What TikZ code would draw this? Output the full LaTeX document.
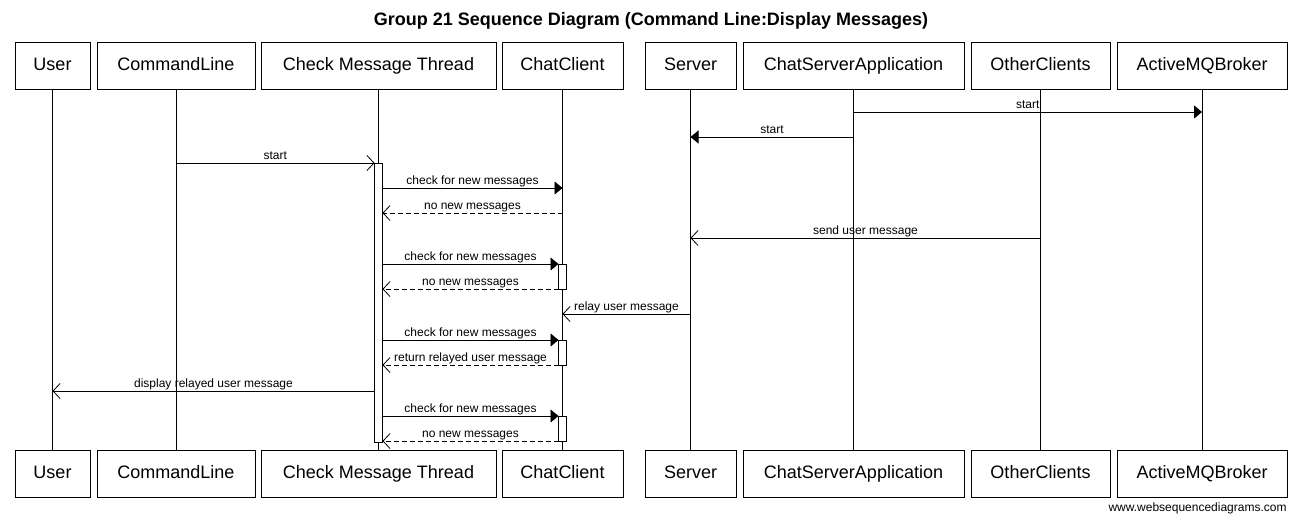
\documentclass[tikz,border=0pt]{standalone}
\usepackage{fontspec}
\setmainfont{Liberation Sans}
\usetikzlibrary{arrows.meta,positioning}

\begin{document}
\begin{tikzpicture}[
    x=1pt, y=-1pt,
    line width=0.8pt,
    actor/.style={draw, minimum height=47pt, inner sep=0pt, outer sep=0pt,
      text height=13pt, text depth=4pt, font=\fontsize{18}{20}\selectfont},
    actbar/.style={draw, fill=white, minimum width=8pt, inner sep=0pt, outer sep=0pt},
    syncmsg/.style={-{Triangle[length=8pt,width=13pt]}},
    asyncmsg/.style={-{Straight Barb[length=7pt,width=15pt]}},
    retmsg/.style={asyncmsg, dash pattern=on 5pt off 3pt},
    msg/.style={font=\fontsize{12}{14}\selectfont, anchor=base, inner sep=0pt, yshift=4pt}
    ]
  \useasboundingbox (0,0) rectangle (1301,517);
  \node[font=\bfseries\fontsize{18}{20}\selectfont] (title) at (651,21) {Group 21 Sequence Diagram (Command Line:Display Messages)};

  % participants (top row)
  \node[actor, minimum width=75pt, anchor=north west] (user) at (15,42) {User};
  \node[actor, minimum width=158pt, right=7pt of user] (cmd) {CommandLine};
  \node[actor, minimum width=235pt, right=6pt of cmd] (cmt) {Check Message Thread};
  \node[actor, minimum width=121pt, right=6pt of cmt] (client) {ChatClient};
  \node[actor, minimum width=91pt, right=22pt of client] (server) {Server};
  \node[actor, minimum width=221pt, right=7pt of server] (csa) {ChatServerApplication};
  \node[actor, minimum width=139pt, right=7pt of csa] (others) {OtherClients};
  \node[actor, minimum width=170pt, right=7pt of others] (amq) {ActiveMQBroker};

  % participants (bottom row)
  \foreach \p/\w/\t in {user/75/User, cmd/158/CommandLine, cmt/235/Check Message Thread,
                        client/121/ChatClient, server/91/Server, csa/221/ChatServerApplication,
                        others/139/OtherClients, amq/170/ActiveMQBroker}
    \node[actor, minimum width=\w pt, below=361pt of \p] (\p B) {\t};

  % lifelines
  \foreach \p in {user, cmd, cmt, client, server, csa, others, amq}
    \draw (\p) -- (\p B);

  % message rows
  \foreach \i/\y in {1/112, 2/137, 3/163, 4/188, 5/213, 6/238, 7/264,
                     8/289, 9/314, 10/340, 11/365, 12/391, 13/416, 14/441}
    \coordinate (r\i) at (0,\y);

  % activations
  \node[actbar, minimum height=279pt, anchor=north] (cmtact) at (cmt |- r3) {};
  \node[actbar, minimum height=25pt, anchor=north] (act1) at (client |- r7) {};
  \node[actbar, minimum height=25pt, anchor=north] (act2) at (client |- r10) {};
  \node[actbar, minimum height=25pt, anchor=north] (act3) at (client |- r13) {};

  % messages
  \draw[syncmsg] (csa |- r1) -- node[msg] {start} (amq |- r1);
  \draw[syncmsg] (csa |- r2) -- node[msg] {start} (server |- r2);
  \draw[asyncmsg] (cmd |- r3) -- node[msg] {start} (cmtact.north west);
  \draw[syncmsg] (cmtact.east |- r4) -- node[msg] {check for new messages} (client |- r4);
  \draw[retmsg] (client |- r5) -- node[msg] {no new messages} (cmtact.east |- r5);
  \draw[asyncmsg] (others |- r6) -- node[msg] {send user message} (server |- r6);
  \draw[syncmsg] (cmtact.east |- r7) -- node[msg] {check for new messages} (act1.north west);
  \draw[retmsg] (act1.south west) -- node[msg] {no new messages} (cmtact.east |- r8);
  \draw[asyncmsg] (server |- r9) -- node[msg] {relay user message} (client |- r9);
  \draw[syncmsg] (cmtact.east |- r10) -- node[msg] {check for new messages} (act2.north west);
  \draw[retmsg] (act2.south west) -- node[msg] {return relayed user message} (cmtact.east |- r11);
  \draw[asyncmsg] (cmtact.west |- r12) -- node[msg] {display relayed user message} (user |- r12);
  \draw[syncmsg] (cmtact.east |- r13) -- node[msg] {check for new messages} (act3.north west);
  \draw[retmsg] (act3.south west) -- node[msg] {no new messages} (cmtact.east |- r14);

  \node[anchor=base east, inner sep=0pt, font=\fontsize{12}{14}\selectfont] (footer) at (1287,511) {www.websequencediagrams.com};
\end{tikzpicture}
\end{document}
